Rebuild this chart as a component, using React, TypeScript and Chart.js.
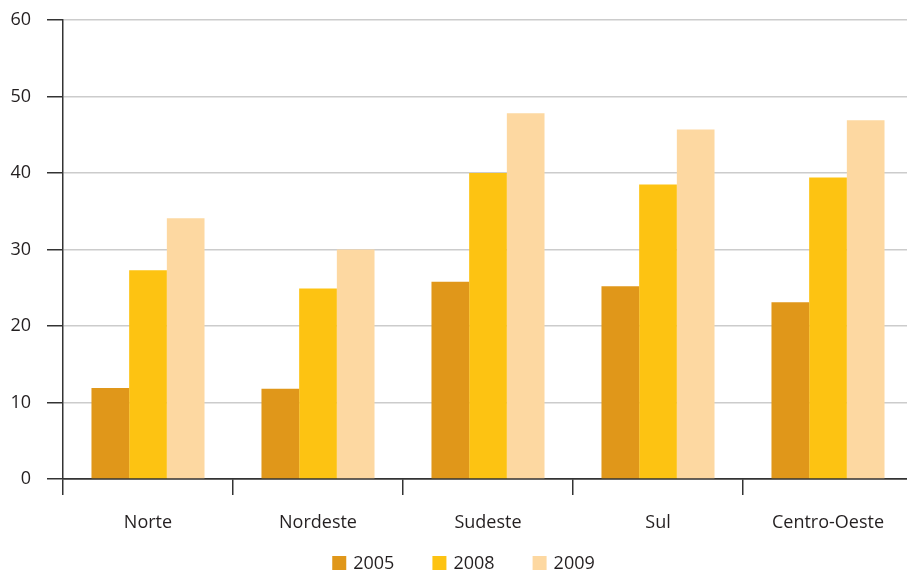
import React, { useEffect, useRef } from "react";
import { Chart, registerables } from "chart.js";

Chart.register(...registerables);

const categories = ["Norte", "Nordeste", "Sudeste", "Sul", "Centro-Oeste"];
const seriesLabels = ["2005", "2008", "2009"];
const values2005 = [11.9, 11.8, 25.8, 25.2, 23.1];
const values2008 = [27.3, 24.9, 40.0, 38.5, 39.4];
const values2009 = [34.1, 30.0, 47.8, 45.7, 46.9];
const seriesColors = ["#E0971A", "#FDC312", "#FDD8A1"];

const FONT = "'Open Sans', 'Noto Sans', sans-serif";
const TEXT = "#231F20";
const FS = 18;

const bottomLegend = {
  id: "bottomLegend",
  afterDraw(chart: any) {
    const ctx = chart.ctx;
    const box = 14;
    const gap = 7;
    const spacing = 38;
    ctx.save();
    ctx.font = `${FS}px ${FONT}`;
    const items = chart.data.datasets.map((ds: any) => ({
      text: ds.label,
      color: ds.backgroundColor,
      w: box + gap + ctx.measureText(ds.label).width,
    }));
    const total =
      items.reduce((a: number, it: any) => a + it.w, 0) + spacing * (items.length - 1);
    let x = chart.width / 2 + 7 - total / 2;
    const cy = chart.height - 8;
    ctx.textBaseline = "middle";
    ctx.textAlign = "left";
    items.forEach((it: any) => {
      ctx.fillStyle = it.color;
      ctx.fillRect(x, cy - box / 2, box, box);
      ctx.fillStyle = TEXT;
      ctx.fillText(it.text, x + box + gap, cy + 1);
      x += it.w + spacing;
    });
    ctx.restore();
  },
};

export default function App() {
  const ref = useRef<HTMLCanvasElement | null>(null);

  useEffect(() => {
    if (!ref.current) return;
    const chart = new Chart(ref.current, {
      type: "bar",
      data: {
        labels: categories,
        datasets: [values2005, values2008, values2009].map((d, i) => ({
          label: seriesLabels[i],
          data: d,
          backgroundColor: seriesColors[i],
          borderWidth: 0,
          categoryPercentage: 0.665,
          barPercentage: 1,
        })),
      },
      plugins: [bottomLegend],
      options: {
        animation: false,
        responsive: true,
        maintainAspectRatio: false,
        layout: { padding: { top: 20, right: 0, left: 0, bottom: 37 } },
        plugins: {
          tooltip: { enabled: false },
          legend: { display: false },
        },
        scales: {
          x: {
            afterFit: (s: any) => {
              s.height = 55;
            },
            grid: {
              display: true,
              drawOnChartArea: false,
              drawTicks: true,
              tickLength: 16,
              offset: true,
              color: "#333",
              tickColor: "#333",
              lineWidth: 1.5,
            },
            border: { display: true, color: "#333", width: 1.5 },
            ticks: {
              color: TEXT,
              padding: 17,
              font: { family: FONT, size: FS },
            },
          },
          y: {
            min: 0,
            max: 60,
            afterFit: (s: any) => {
              s.width = 63;
              s.paddingTop = 0;
              s.paddingBottom = 0;
            },
            grid: {
              color: (ctx: any) => (ctx.tick && ctx.tick.value === 0 ? "#333" : "#cccccc"),
              lineWidth: 1.5,
              tickLength: 16,
              tickColor: "#333",
            },
            border: { display: true, color: "#333", width: 1.5 },
            ticks: {
              stepSize: 10,
              color: TEXT,
              padding: 16,
              font: { family: FONT, size: FS },
            },
          },
        },
      },
    });
    return () => chart.destroy();
  }, []);

  return (
    <div
      style={{
        position: "fixed",
        left: 0,
        top: 0,
        width: 913,
        height: 571,
        background: "#fff",
      }}
    >
      <canvas ref={ref} />
    </div>
  );
}
